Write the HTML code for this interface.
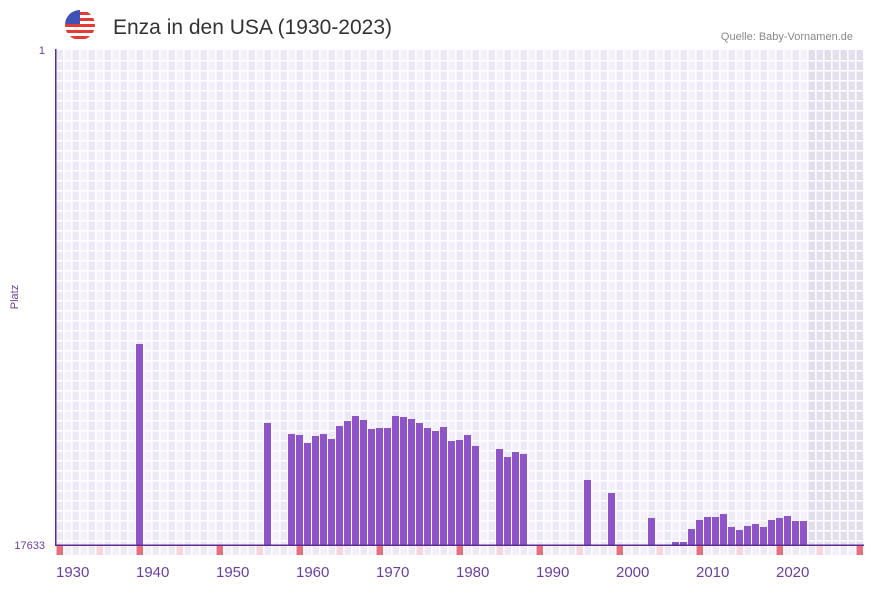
<!DOCTYPE html>
<html><head><meta charset="utf-8"><style>
body{margin:0;background:#fff;width:873px;height:587px;overflow:hidden;font-family:"Liberation Sans","DejaVu Sans",sans-serif}
</style></head><body>
<svg id="s" width="873" height="587" xmlns="http://www.w3.org/2000/svg">
<defs><clipPath id="fc"><circle cx="80" cy="25" r="15"/></clipPath></defs>
<g clip-path="url(#fc)">
<rect x="65" y="10" width="30" height="30" fill="#fff"/>
<rect x="65" y="12" width="30" height="3" fill="#e53935"/><rect x="65" y="18" width="30" height="3" fill="#e53935"/><rect x="65" y="24" width="30" height="3" fill="#e53935"/><rect x="65" y="30" width="30" height="3" fill="#e53935"/><rect x="65" y="36" width="30" height="3" fill="#e53935"/>
<rect x="65" y="10" width="15" height="14" fill="#3f51b5"/>
</g>
<text x="113" y="34" font-size="21" fill="#333">Enza in den USA (1930-2023)</text>
<text x="853" y="40" font-size="11" fill="#888" text-anchor="end">Quelle: Baby-Vornamen.de</text>
<text x="45" y="54" font-size="11" fill="#6a3fa0" text-anchor="end">1</text>
<text x="45" y="549" font-size="11" fill="#6a3fa0" text-anchor="end">17633</text>
<text x="18" y="297" font-size="11" fill="#6a3fa0" text-anchor="middle" transform="rotate(-90 18 297)">Platz</text>
<g id="g"></g>
</svg>
<script>
var g=document.getElementById('g'),h='';
for(var i=0;i<101;i++){var x=56+i*8,y=i+1930;
 h+='<rect x="'+x+'" y="50" width="8" height="495" fill="'+(i%2?'#f3f0fb':'#ede8f8')+'"/>';
 var c=(i%10==0)?'#e8707a':(i%10==5?'#f5d5de':(i%2?'#f3f0fb':'#ede8f8'));
 h+='<rect x="'+x+'" y="546" width="7" height="9" fill="'+c+'"/>';
}
h+='<rect x="808" y="50" width="56" height="495" fill="#ddd8e8" opacity="0.7"/>';
for(var i=0;i<=101;i++)h+='<rect x="'+(55+i*8)+'" y="50" width="1.5" height="505" fill="#fff"/>';
for(var y=60;y<545;y+=10)h+='<rect x="56" y="'+y+'" width="808" height="1.5" fill="#fff"/>';
var d={1940:344,1956:423,2004:518,1996:480,1999:493,2007:542,2008:542};
var a=[434,435,443,436,434,439,426,421,416,420,429,428,428,416,417,419,423,428,431,427,441,440,435,446];
a.forEach(function(v,k){d[1959+k]=v});
[449,457,452,454].forEach(function(v,k){d[1985+k]=v});
[529,520,517,517,514,527,530,526,524,527,520,518,516,521,521].forEach(function(v,k){d[2009+k]=v});
for(var yr in d){var x=56+(yr-1930)*8;h+='<rect x="'+x+'" y="'+d[yr]+'" width="7" height="'+(545-d[yr])+'" fill="#8e54c8"/>';}
h+='<rect x="55" y="49" width="1.5" height="497" fill="#5b2d91"/><rect x="55" y="544.5" width="809" height="1.5" fill="#5b2d91"/>';
for(var k=0;k<10;k++)h+='<text x="'+(56+k*80)+'" y="577" font-size="15" fill="#6a3fa0">'+(1930+k*10)+'</text>';
g.innerHTML=h;
</script>
</body></html>
